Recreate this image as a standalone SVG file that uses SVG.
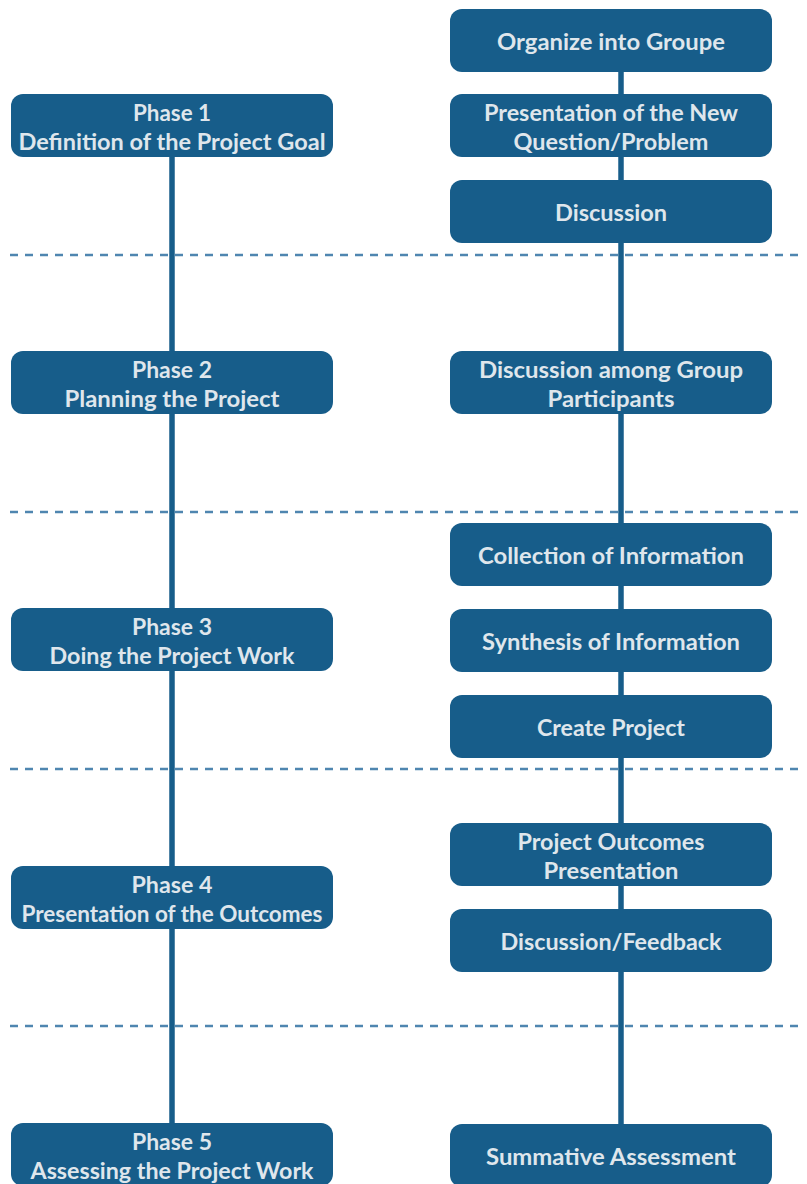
<svg xmlns="http://www.w3.org/2000/svg" width="807" height="1184" viewBox="0 0 807 1184">
  <style>
    .box { fill: #175d8a; }
    .lbl { font-family: Lato, "Open Sans", "Liberation Sans", sans-serif; font-weight: 700; font-size: 23.5px; fill: #dfe6ec; text-anchor: middle; }
    .spine { stroke: #175d8a; stroke-width: 5.5; fill: none; }
    .sep { stroke: #4f86b0; stroke-width: 2.5; stroke-dasharray: 8 7; fill: none; }
  </style>

  <!-- phase separators -->
  <g id="separators">
    <line class="sep" x1="10" y1="255" x2="805" y2="255"/>
    <line class="sep" x1="10" y1="512" x2="805" y2="512"/>
    <line class="sep" x1="10" y1="769" x2="805" y2="769"/>
    <line class="sep" x1="10" y1="1026" x2="805" y2="1026"/>
  </g>

  <!-- connectors -->
  <g id="connectors">
    <line class="spine" x1="172" y1="150" x2="172" y2="1130"/>
    <line class="spine" x1="621" y1="65" x2="621" y2="1130"/>
  </g>

  <!-- phases (left column) -->
  <g id="phase1">
    <rect class="box" x="11" y="94" width="322" height="63" rx="12"/>
    <text class="lbl" x="172" y="121" textLength="78" lengthAdjust="spacingAndGlyphs">Phase 1</text>
    <text class="lbl" x="172" y="149.5" textLength="307" lengthAdjust="spacingAndGlyphs">Definition of the Project Goal</text>
  </g>
  <g id="phase2">
    <rect class="box" x="11" y="351" width="322" height="63" rx="12"/>
    <text class="lbl" x="172" y="378" textLength="80" lengthAdjust="spacingAndGlyphs">Phase 2</text>
    <text class="lbl" x="172" y="406.5" textLength="215" lengthAdjust="spacingAndGlyphs">Planning the Project</text>
  </g>
  <g id="phase3">
    <rect class="box" x="11" y="608" width="322" height="63" rx="12"/>
    <text class="lbl" x="172" y="635" textLength="80" lengthAdjust="spacingAndGlyphs">Phase 3</text>
    <text class="lbl" x="172" y="663.5" textLength="245" lengthAdjust="spacingAndGlyphs">Doing the Project Work</text>
  </g>
  <g id="phase4">
    <rect class="box" x="11" y="866" width="322" height="63" rx="12"/>
    <text class="lbl" x="172" y="893" textLength="81" lengthAdjust="spacingAndGlyphs">Phase 4</text>
    <text class="lbl" x="172" y="921.5" textLength="301" lengthAdjust="spacingAndGlyphs">Presentation of the Outcomes</text>
  </g>
  <g id="phase5">
    <rect class="box" x="11" y="1123" width="322" height="63" rx="12"/>
    <text class="lbl" x="172" y="1150" textLength="80" lengthAdjust="spacingAndGlyphs">Phase 5</text>
    <text class="lbl" x="172" y="1178.5" textLength="283" lengthAdjust="spacingAndGlyphs">Assessing the Project Work</text>
  </g>

  <!-- activities (right column) -->
  <g id="organize">
    <rect class="box" x="450" y="9" width="322" height="63" rx="12"/>
    <text class="lbl" x="611" y="50" textLength="228" lengthAdjust="spacingAndGlyphs">Organize into Groupe</text>
  </g>
  <g id="presentation-question">
    <rect class="box" x="450" y="94" width="322" height="63" rx="12"/>
    <text class="lbl" x="611" y="120.5" textLength="254" lengthAdjust="spacingAndGlyphs">Presentation of the New</text>
    <text class="lbl" x="611" y="149.5" textLength="195" lengthAdjust="spacingAndGlyphs">Question/Problem</text>
  </g>
  <g id="discussion">
    <rect class="box" x="450" y="180" width="322" height="63" rx="12"/>
    <text class="lbl" x="611" y="221" textLength="112" lengthAdjust="spacingAndGlyphs">Discussion</text>
  </g>
  <g id="discussion-group">
    <rect class="box" x="450" y="351" width="322" height="63" rx="12"/>
    <text class="lbl" x="611" y="378" textLength="264" lengthAdjust="spacingAndGlyphs">Discussion among Group</text>
    <text class="lbl" x="611" y="406.5" textLength="127" lengthAdjust="spacingAndGlyphs">Participants</text>
  </g>
  <g id="collection">
    <rect class="box" x="450" y="523" width="322" height="63" rx="12"/>
    <text class="lbl" x="611" y="564" textLength="266" lengthAdjust="spacingAndGlyphs">Collection of Information</text>
  </g>
  <g id="synthesis">
    <rect class="box" x="450" y="609" width="322" height="63" rx="12"/>
    <text class="lbl" x="611" y="650" textLength="258" lengthAdjust="spacingAndGlyphs">Synthesis of Information</text>
  </g>
  <g id="create-project">
    <rect class="box" x="450" y="695" width="322" height="63" rx="12"/>
    <text class="lbl" x="611" y="736" textLength="148" lengthAdjust="spacingAndGlyphs">Create Project</text>
  </g>
  <g id="outcomes-presentation">
    <rect class="box" x="450" y="823" width="322" height="63" rx="12"/>
    <text class="lbl" x="611" y="850" textLength="187" lengthAdjust="spacingAndGlyphs">Project Outcomes</text>
    <text class="lbl" x="611" y="878.5" textLength="135" lengthAdjust="spacingAndGlyphs">Presentation</text>
  </g>
  <g id="feedback">
    <rect class="box" x="450" y="909" width="322" height="63" rx="12"/>
    <text class="lbl" x="611" y="950" textLength="221" lengthAdjust="spacingAndGlyphs">Discussion/Feedback</text>
  </g>
  <g id="summative">
    <rect class="box" x="450" y="1124" width="322" height="63" rx="12"/>
    <text class="lbl" x="611" y="1165" textLength="250" lengthAdjust="spacingAndGlyphs">Summative Assessment</text>
  </g>
</svg>
